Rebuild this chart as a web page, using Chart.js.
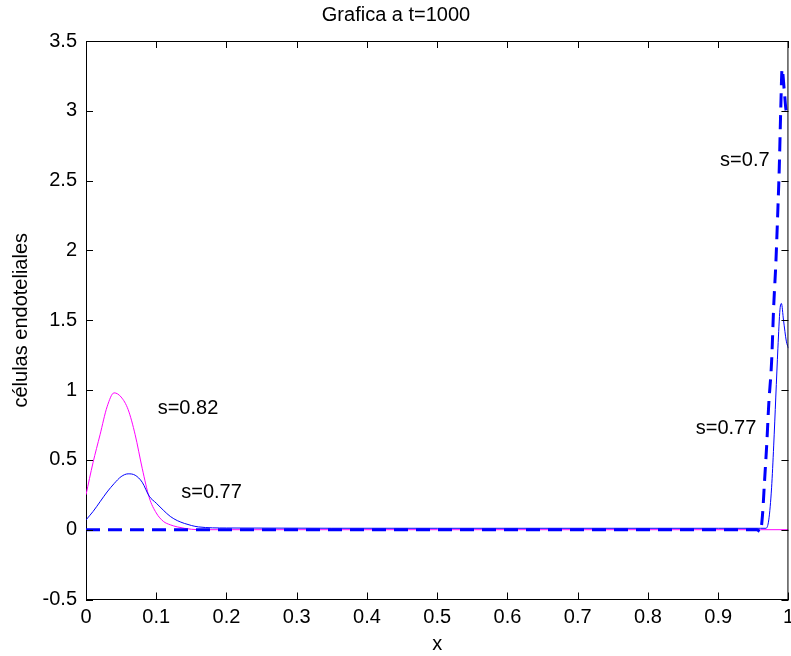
<!DOCTYPE html>
<html>
<head>
<meta charset="utf-8">
<script src="https://cdn.jsdelivr.net/npm/chart.js@4.4.1/dist/chart.umd.min.js"></script>
<style>
  html, body { margin: 0; padding: 0; background: #fff; overflow: hidden; }
  #wrap { position: absolute; left: 0; top: 0; }
</style>
</head>
<body>
<div id="wrap"><canvas id="myChart" width="800" height="656"></canvas></div>
<script>
// s=0.82 (magenta)
var xMag = [0, 0.01, 0.02, 0.03, 0.04, 0.05, 0.06, 0.07, 0.08, 0.09, 0.10, 0.11, 0.12, 0.13, 0.14, 0.16, 0.2, 0.5, 0.96, 1.0];
var yMag = [0.25, 0.48, 0.68, 0.88, 0.98, 0.95, 0.86, 0.68, 0.44, 0.23, 0.12, 0.06, 0.035, 0.02, 0.01, 0, 0, 0, 0, 0];

// s=0.77 (thin blue)
var xBlue = [0, 0.01, 0.02, 0.03, 0.04, 0.05, 0.06, 0.07, 0.08, 0.09, 0.10, 0.11, 0.12, 0.13, 0.14, 0.15, 0.16, 0.2, 0.5, 0.9, 0.96, 0.968, 0.972, 0.976, 0.979, 0.982, 0.985, 0.988, 0.99, 0.993, 0.997, 1.0];
var yBlue = [0.07, 0.13, 0.2, 0.27, 0.33, 0.38, 0.40, 0.39, 0.34, 0.24, 0.19, 0.14, 0.095, 0.065, 0.045, 0.03, 0.02, 0.012, 0.01, 0.01, 0.01, 0.01, 0.07, 0.3, 0.6, 0.95, 1.3, 1.58, 1.62, 1.5, 1.35, 1.3];

// s=0.7 (thick dashed blue)
var xDash = [0, 0.5, 0.955, 0.96, 0.963, 0.966, 0.969, 0.972, 0.976, 0.979, 0.982, 0.985, 0.987, 0.989, 0.991, 0.994, 0.997, 1.0];
var yDash = [0, 0, 0, -0.015, 0.1, 0.35, 0.6, 0.9, 1.2, 1.6, 1.9, 2.3, 2.6, 3.0, 3.3, 3.15, 3.0, 3.05];

// text labels in data coordinates
var noteText = ['s=0.82', 's=0.77', 's=0.7', 's=0.77'];
var noteX = [0.102, 0.1356, 0.9027, 0.868];
var noteY = [0.87, 0.27, 2.647, 0.727];

function zip(xs, ys) {
    return xs.map(function (v, i) { return { x: v, y: ys[i] }; });
}

Chart.defaults.font.family = '"Liberation Sans", Arial, sans-serif';
Chart.defaults.font.size = 20;
Chart.defaults.color = '#000';

var frame = {
    id: 'frame',
    afterDraw: function (chart) {
        var ctx = chart.ctx;
        var a = chart.chartArea;
        var sx = chart.scales.x, sy = chart.scales.y;
        var tl = 7;
        ctx.save();
        ctx.strokeStyle = '#000';
        ctx.lineWidth = 1;
        ctx.beginPath();
        ctx.moveTo(a.left, a.top + 0.5);
        ctx.lineTo(a.right, a.top + 0.5);
        ctx.moveTo(a.right - 0.5, a.top);
        ctx.lineTo(a.right - 0.5, a.bottom);
        // inward ticks, MATLAB style
        sx.ticks.forEach(function (t) {
            var px = Math.round(sx.getPixelForValue(t.value)) + 0.5;
            ctx.moveTo(px, a.bottom);
            ctx.lineTo(px, a.bottom - tl);
            ctx.moveTo(px, a.top);
            ctx.lineTo(px, a.top + tl);
        });
        sy.ticks.forEach(function (t) {
            var py = Math.round(sy.getPixelForValue(t.value)) + 0.5;
            ctx.moveTo(a.left, py);
            ctx.lineTo(a.left + tl, py);
            ctx.moveTo(a.right, py);
            ctx.lineTo(a.right - tl, py);
        });
        ctx.stroke();
        ctx.restore();
    },
    afterDatasetsDraw: function (chart) {
        var ctx = chart.ctx;
        ctx.save();
        ctx.fillStyle = '#000';
        ctx.font = '20px "Liberation Sans", Arial, sans-serif';
        ctx.textAlign = 'left';
        ctx.textBaseline = 'middle';
        for (var i = 0; i < noteText.length; i++) {
            ctx.fillText(noteText[i], chart.scales.x.getPixelForValue(noteX[i]), chart.scales.y.getPixelForValue(noteY[i]));
        }
        ctx.restore();
    }
};

var ctx = document.getElementById('myChart');
var myChart = new Chart(ctx, {
    type: 'line',
    data: {
        datasets: [
            {
                label: 's=0.7',
                data: zip(xDash, yDash),
                borderColor: '#0000ff',
                borderWidth: 3,
                borderDash: [14, 8],
                pointRadius: 0,
                cubicInterpolationMode: 'monotone'
            },
            {
                label: 's=0.77',
                data: zip(xBlue, yBlue),
                borderColor: '#0000ff',
                borderWidth: 1,
                pointRadius: 0,
                cubicInterpolationMode: 'monotone'
            },
            {
                label: 's=0.82',
                data: zip(xMag, yMag),
                borderColor: '#ff00ff',
                borderWidth: 1,
                pointRadius: 0,
                cubicInterpolationMode: 'monotone'
            }
        ]
    },
    options: {
        responsive: false,
        animation: false,
        devicePixelRatio: 1,
        layout: {
            padding: { left: 0, right: 8, top: 0, bottom: 0 }
        },
        plugins: {
            legend: { display: false },
            tooltip: { enabled: false },
            title: {
                display: true,
                text: 'Grafica a t=1000',
                font: { size: 20, weight: 'normal' },
                color: '#000',
                padding: { top: 3.5, bottom: 13.5 }
            }
        },
        scales: {
            x: {
                type: 'linear',
                min: 0,
                max: 1,
                ticks: {
                    stepSize: 0.1,
                    padding: 6,
                    maxRotation: 0,
                    autoSkip: false,
                    callback: function (value) {
                        return String(Number(value.toFixed(1)));
                    }
                },
                grid: { display: false, drawTicks: false },
                border: { display: true, color: '#000' },
                title: {
                    display: true,
                    text: 'x',
                    font: { size: 20 },
                    padding: { top: 4, bottom: 0 }
                },
                afterFit: function (scale) {
                    scale.height = 56.5;
                }
            },
            y: {
                type: 'linear',
                min: -0.5,
                max: 3.5,
                ticks: {
                    stepSize: 0.5,
                    padding: 9,
                    callback: function (value) {
                        return String(Number(value.toFixed(1)));
                    }
                },
                grid: { display: false, drawTicks: false },
                border: { display: true, color: '#000' },
                title: {
                    display: true,
                    text: 'células endoteliales',
                    font: { size: 20 },
                    padding: { top: 9, bottom: 0 }
                },
                afterFit: function (scale) {
                    scale.width = 86;
                }
            }
        }
    },
    plugins: [frame]
});
</script>
</body>
</html>
